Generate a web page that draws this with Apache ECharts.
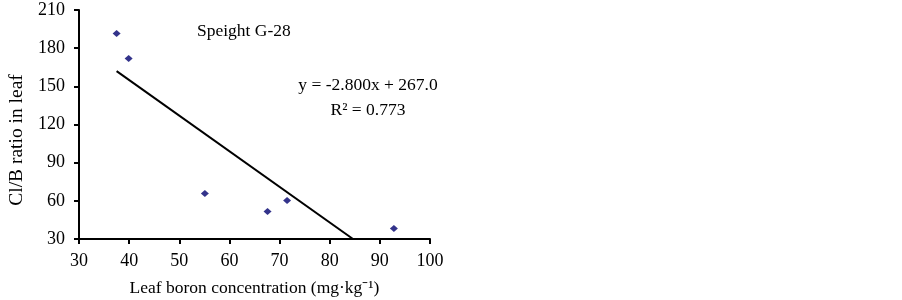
<!DOCTYPE html>
<html>
<head>
<meta charset="utf-8">
<script src="https://cdn.jsdelivr.net/npm/echarts@6/dist/echarts.min.js"></script>
<style>
  html, body { margin: 0; padding: 0; background: #fff; }
  #main { width: 902px; height: 300px; }
</style>
</head>
<body>
<div id="main"></div>
<script>
// leaf boron (mg/kg) vs Cl/B ratio
var boron = [37.5, 39.9, 55.1, 67.6, 71.5, 92.8];
var clbRatio = [191.6, 171.9, 65.8, 51.6, 60.3, 38.2];

// linear fit shown on the chart
var slope = -2.8;
var intercept = 267.0;
var trendX = [37.5, 84.64];

var xTicks = [30, 40, 50, 60, 70, 80, 90, 100];
var yTicks = [30, 60, 90, 120, 150, 180, 210];

var font = 'Liberation Serif, Times New Roman, serif';

var points = boron.map(function (b, i) { return [b, clbRatio[i]]; });
var trend = trendX.map(function (x) { return [x, slope * x + intercept]; });

var myChart = echarts.init(document.getElementById('main'));
var option = {
    animation: false,
    grid: { left: 79, right: 472, top: 10, bottom: 61, outerBoundsMode: 'none', containLabel: false },
    xAxis: {
        type: 'value',
        min: xTicks[0],
        max: xTicks[xTicks.length - 1],
        interval: 10,
        name: 'Leaf boron concentration (mg·kg⁻¹)',
        nameLocation: 'middle',
        nameGap: 40,
        nameTextStyle: { fontFamily: font, fontSize: 17.5, color: '#000' },
        axisLine: { lineStyle: { color: '#000', width: 2 } },
        axisTick: { show: true, inside: false, length: 5, lineStyle: { color: '#000', width: 2 } },
        axisLabel: { fontFamily: font, fontSize: 18, color: '#000', margin: 13 },
        splitLine: { show: false }
    },
    yAxis: {
        type: 'value',
        min: yTicks[0],
        max: yTicks[yTicks.length - 1],
        interval: 30,
        axisLine: { show: true, lineStyle: { color: '#000', width: 2 } },
        axisTick: { show: true, inside: false, length: 5, lineStyle: { color: '#000', width: 2 } },
        axisLabel: { fontFamily: font, fontSize: 18, color: '#000', margin: 14 },
        splitLine: { show: false }
    },
    graphic: [
        { type: 'text', x: 17, y: 140, rotation: Math.PI / 2, style: { text: 'Cl/B ratio in leaf', font: '19.5px ' + font, fill: '#000', align: 'center', verticalAlign: 'middle' } },
        { type: 'text', left: 197, top: 22, style: { text: 'Speight G-28', font: '17.5px ' + font, fill: '#000' } },
        { type: 'text', x: 368, y: 85, style: { text: 'y = -2.800x + 267.0', font: '17.5px ' + font, fill: '#000', align: 'center', verticalAlign: 'middle' } },
        { type: 'text', x: 368, y: 110, style: { text: 'R² = 0.773', font: '17.5px ' + font, fill: '#000', align: 'center', verticalAlign: 'middle' } }
    ],
    series: [
        {
            type: 'line',
            data: trend,
            symbol: 'none',
            lineStyle: { color: '#000', width: 2 },
            z: 1
        },
        {
            type: 'scatter',
            data: points,
            symbol: 'diamond',
            symbolSize: [8, 7],
            itemStyle: { color: '#00006e' },
            z: 2
        }
    ]
};
myChart.setOption(option);
</script>
</body>
</html>
